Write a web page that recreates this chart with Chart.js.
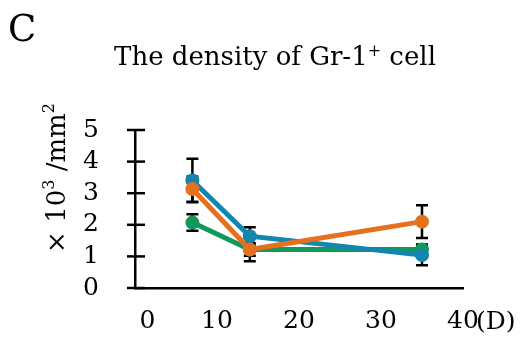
<!DOCTYPE html>
<html>
<head>
<meta charset="utf-8">
<script src="https://cdn.jsdelivr.net/npm/chart.js@4.4.1/dist/chart.umd.min.js"></script>
<style>
  body { margin: 0; background: #fff; }
  canvas { display: block; }
</style>
</head>
<body>
<canvas id="densityChart" width="526" height="349"></canvas>
<script>
const DAYS = [7, 14, 35];
const BLUE = [3.4, 1.64, 1.04];
const BLUE_ERR = [0.69, 0.28, 0.32];
const ORANGE = [3.13, 1.22, 2.1];
const ORANGE_ERR = [0.4, 0.37, 0.52];
const GREEN = [2.07, 1.22, 1.22];
const GREEN_ERR = [0.26, 0.2, 0.16];
const Y_TICKS = [0, 1, 2, 3, 4, 5];

const SERIF = "'DejaVu Serif', 'Liberation Serif', serif";

function points(values) {
  return values.map((v, i) => ({ x: DAYS[i], y: v }));
}

// error bars, drawn under the lines
const errorBars = {
  id: "errorBars",
  beforeDatasetsDraw(chart) {
    const { ctx, scales: { x, y } } = chart;
    ctx.save();
    ctx.strokeStyle = "#000";
    ctx.lineWidth = 2.5;
    chart.data.datasets.forEach(ds => {
      ds.errors.forEach((e, i) => {
        const v = ds.data[i].y;
        const px = x.getPixelForValue(ds.data[i].x);
        const top = y.getPixelForValue(v + e);
        const bot = y.getPixelForValue(v - e);
        ctx.beginPath();
        ctx.moveTo(px, top); ctx.lineTo(px, bot);
        ctx.moveTo(px - 6, top); ctx.lineTo(px + 6, top);
        ctx.moveTo(px - 6, bot); ctx.lineTo(px + 6, bot);
        ctx.stroke();
      });
    });
    ctx.restore();
  }
};

// texts and y tick marks crossing the axis
const decorations = {
  id: "decorations",
  afterDraw(chart) {
    const { ctx, scales: { x, y } } = chart;
    ctx.save();
    ctx.strokeStyle = "#000";
    ctx.lineWidth = 2.5;
    Y_TICKS.forEach(t => {
      const py = y.getPixelForValue(t);
      ctx.beginPath();
      ctx.moveTo(x.left - 8, py);
      ctx.lineTo(x.left + 10, py);
      ctx.stroke();
    });

    ctx.fillStyle = "#000";
    ctx.textBaseline = "alphabetic";

    ctx.font = "37px " + SERIF;
    ctx.textAlign = "left";
    ctx.fillText("C", 8, 41);

    // title with superscript +
    const main = "The density of Gr-1";
    const tail = " cell";
    ctx.font = "26px " + SERIF;
    const w1 = ctx.measureText(main).width;
    const w3 = ctx.measureText(tail).width;
    ctx.font = "16px " + SERIF;
    const w2 = ctx.measureText("+").width;
    let tx = 275 - (w1 + w2 + w3) / 2;
    ctx.font = "26px " + SERIF;
    ctx.fillText(main, tx, 65);
    ctx.font = "16px " + SERIF;
    ctx.fillText("+", tx + w1, 56);
    ctx.font = "26px " + SERIF;
    ctx.fillText(tail, tx + w1 + w2, 65);

    // x unit
    ctx.font = "25px " + SERIF;
    ctx.fillText("(D)", 476, 329);

    // y axis title, rotated
    ctx.translate(65, 178);
    ctx.rotate(-Math.PI / 2);
    const parts = [["× 10", 26, 0], ["3", 16, -11], [" /mm", 26, 0], ["2", 16, -11]];
    let total = 0;
    parts.forEach(p => { ctx.font = p[1] + "px " + SERIF; total += ctx.measureText(p[0]).width; });
    let ax = -total / 2;
    parts.forEach(p => {
      ctx.font = p[1] + "px " + SERIF;
      ctx.fillText(p[0], ax, p[2]);
      ax += ctx.measureText(p[0]).width;
    });
    ctx.restore();
  }
};

const ctx = document.getElementById("densityChart").getContext("2d");
new Chart(ctx, {
  type: "line",
  data: {
    datasets: [
      { data: points(ORANGE), errors: ORANGE_ERR, borderColor: "#e5711f", backgroundColor: "#e5711f" },
      { data: points(BLUE), errors: BLUE_ERR, borderColor: "#1386b0", backgroundColor: "#1386b0" },
      { data: points(GREEN), errors: GREEN_ERR, borderColor: "#13985c", backgroundColor: "#13985c" }
    ].map(d => Object.assign(d, { borderWidth: 5, pointRadius: 7, pointBorderWidth: 0, tension: 0 }))
  },
  plugins: [errorBars, decorations],
  options: {
    responsive: false,
    animation: false,
    devicePixelRatio: 1,
    layout: { padding: { left: 0, right: 63, top: 130, bottom: 0 } },
    plugins: { legend: { display: false }, tooltip: { enabled: false } },
    scales: {
      x: {
        type: "linear",
        min: 0,
        max: 40,
        grid: { display: false },
        border: { color: "#000", width: 2.5 },
        ticks: {
          stepSize: 10, padding: 10, color: "#000", maxRotation: 0, autoSkip: false,
          font: { family: SERIF, size: 25 },
          callback: v => v === 0 ? "\u2003" + v : String(v)
        },
        afterFit(scale) { scale.height = 61; }
      },
      y: {
        min: 0,
        max: 5,
        grid: { display: false },
        border: { color: "#000", width: 2.5 },
        ticks: { stepSize: 1, padding: 28, color: "#000", autoSkip: false, font: { family: SERIF, size: 25 } },
        afterFit(scale) { scale.width = 135; }
      }
    }
  }
});
</script>
</body>
</html>
